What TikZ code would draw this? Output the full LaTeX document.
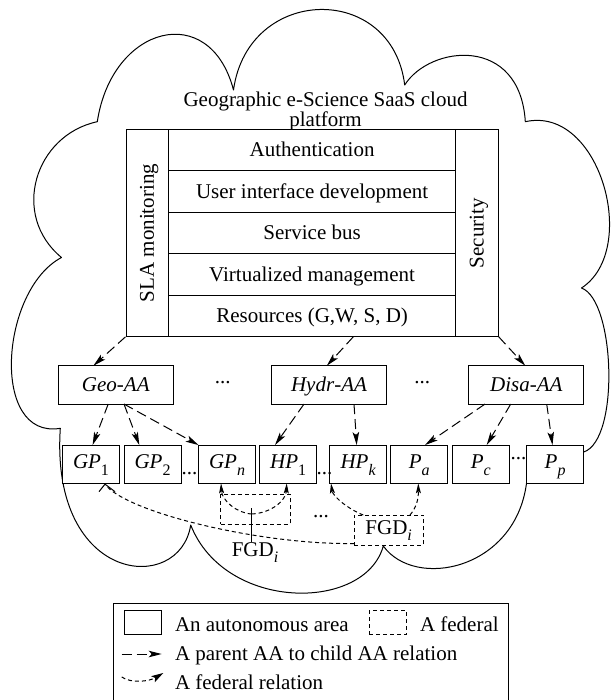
\documentclass[tikz,border=0pt]{standalone}
\usepackage{fontspec}
\setmainfont{Liberation Serif}
\usetikzlibrary{arrows.meta,calc}
\newcommand{\mysub}[1]{\raisebox{-0.33em}{\fontsize{16}{16}\selectfont #1}}
\begin{document}
\begin{tikzpicture}[x=1pt,y=-1pt,
  every node/.style={font=\fontsize{21}{18}\selectfont, inner sep=0pt, outer sep=0pt},
  ln/.style={line width=1pt, line join=round},
  cell/.style={draw, line width=1pt, fill=white, text height=14pt, text depth=1pt},
  vcell/.style={draw, line width=1pt, fill=white, rotate=90, text height=14pt, text depth=1pt},
  aabox/.style={cell, minimum width=115pt, minimum height=38.3pt, font=\fontsize{21}{18}\selectfont\itshape},
  pbox/.style={draw, line width=1pt, fill=white, minimum width=57pt, minimum height=38.3pt, text height=12pt, text depth=4pt},
  fedbox/.style={draw, line width=1pt, dash pattern=on 4pt off 3pt},
  pcarrow/.style={line width=1pt, dash pattern=on 10pt off 5pt, -{Stealth[length=13pt,width=6.5pt,inset=3pt]}},
  fedarrow/.style={line width=1pt, dash pattern=on 4pt off 3pt, -{Stealth[length=10pt,width=5pt,inset=2pt]}},
  fedline/.style={line width=1pt, dash pattern=on 4pt off 3pt},
]
\useasboundingbox (0,0) rectangle (610,700);

% cloud
\draw[ln] (97.3,121.7)
  .. controls (112,25) and (210,0) .. (233.5,90)
  .. controls (248,-15) and (392,-18) .. (404.7,85)
  .. controls (430,45) and (520,35) .. (525.3,121.7)
  .. controls (600,105) and (640,250) .. (581.5,288)
  .. controls (615,300) and (620,440) .. (583.7,452)
  -- (526.5,483.3)
  .. controls (515,570) and (415,590) .. (383.3,546)
  .. controls (365,612) and (225,612) .. (190.7,525)
  .. controls (180,595) and (50,585) .. (60.3,428.3)
  .. controls (-10,440) and (0,290) .. (61.5,257.5)
  .. controls (10,215) and (35,135) .. (97.3,121.7) -- cycle;

% title
\node[anchor=north, align=center] (title) at (325.5,91.5) {Geographic e-Science SaaS cloud\\platform};

% platform stack
\node[cell, minimum width=287.2pt, minimum height=41.5pt] (auth) at (312.1,150.05) {Authentication};
\node[cell, minimum width=287.2pt, minimum height=41.5pt] (uid) at (312.1,191.55) {User interface development};
\node[cell, minimum width=287.2pt, minimum height=41.5pt] (sbus) at (312.1,233.05) {Service bus};
\node[cell, minimum width=287.2pt, minimum height=41.5pt] (virt) at (312.1,274.55) {Virtualized management};
\node[cell, minimum width=287.2pt, minimum height=41.5pt] (res) at (312.1,316.05) {Resources (G,W, S, D)};
\node[vcell, minimum width=207.5pt, minimum height=42.5pt] (sla) at (147.25,233.05) {SLA monitoring};
\node[vcell, minimum width=207.5pt, minimum height=42.6pt] (sec) at (477,233.05) {Security};

% autonomous areas
\node[aabox] (geo) at (115.8,384.9) {Geo\textup{-}AA};
\node[aabox] (hydr) at (329,384.9) {Hydr\textup{-}AA};
\node[aabox] (disa) at (526.3,384.9) {Disa\textup{-}AA};
\node (d1) at (222.8,382.7) {...};
\node (d2) at (422.2,382.7) {...};

\node[pbox] (gp1) at (91,464.2) {\textit{GP}\mysub{1}};
\node[pbox] (gp2) at (152.5,464.2) {\textit{GP}\mysub{2}};
\node[pbox] (gpn) at (227,464.2) {\textit{GP}\mysub{\textit{n}}};
\node[pbox] (hp1) at (288.2,464.2) {\textit{HP}\mysub{1}};
\node[pbox] (hpk) at (358.2,464.2) {\textit{HP}\mysub{\textit{k}}};
\node[pbox] (pa) at (419.3,464.2) {\textit{P}\mysub{\textit{a}}};
\node[pbox] (pc) at (480.8,464.2) {\textit{P}\mysub{\textit{c}}};
\node[pbox] (pp) at (555.1,464.2) {\textit{P}\mysub{\textit{p}}};
\node (d3) at (189.5,474) {...};
\node (d4) at (324.5,474) {...};
\node (d5) at (518.5,458.3) {...};

% parent -> child arrows
\draw[pcarrow] ($(res.south west)+(-43,0)$) -- ($(geo.north)+(-22.4,0)$);
\draw[pcarrow] ($(res.south)+(41.2,0)$) -- ($(hydr.north)+(-2.2,0)$);
\draw[pcarrow] ($(res.south east)+(43,0)$) -- ($(disa.north)+(-1,0)$);
\draw[pcarrow] ($(geo.south)+(-7.6,0)$) -- ($(gp1.north)+(1.6,0)$);
\draw[pcarrow] ($(geo.south)+(8.2,0)$) -- ($(gp2.north)+(-13.2,0)$);
\draw[pcarrow] ($(geo.south)+(8.2,0)$) -- (gpn.north west);
\draw[pcarrow] ($(hydr.south)+(-25,0)$) -- ($(hp1.north)+(-13.2,0)$);
\draw[pcarrow] ($(hydr.south)+(25,0)$) -- ($(hpk.north)+(-1.5,0)$);
\draw[pcarrow] ($(disa.south)+(-41.3,0)$) -- ($(pa.north)+(5.7,0)$);
\draw[pcarrow] ($(disa.south)+(-15.6,0)$) -- ($(pc.north)+(5.9,0)$);
\draw[pcarrow] ($(disa.south)+(20.4,0)$) -- ($(pp.north)+(-2.6,0)$);

% federations
\node[fedbox, minimum width=69.3pt, minimum height=29.7pt] (fed1) at (255.35,509.15) {};
\node[fedbox, minimum width=69.3pt, minimum height=30pt, text height=12pt, text depth=4pt] (fed2) at (388.65,530) {FGD\mysub{\textit{i}}};
\node (d6) at (321,516.3) {...};
\node[anchor=base] (fgdlab) at (255,556) {FGD\mysub{\textit{i}}};
\coordinate (vt) at (251.7,508.3);
\draw[ln] (vt) -- (vt |- fgdlab.north);
\coordinate (fc) at (251.7,514);
\draw[fedarrow] (fc) .. controls (236,513) and (222,500) .. ($(gpn.south)+(-6,0)$);
\draw[fedarrow] (fc) .. controls (272,513) and (286,500) .. ($(hp1.south)+(-1.5,0)$);
\draw[fedarrow] ($(fed2.north west)+(9.3,0)$) .. controls (350,510) and (333,497) .. ($(hpk.south west)+(1.3,0)$);
\draw[fedarrow] ($(fed2.north)+(21.35,0)$) .. controls (416,508) and (418.5,500) .. ($(pa.south)+(-1,0)$);
\coordinate (gtip) at ($(gp1.south)+(14,0.8)$);
\draw[fedline] ($(fed2.south west)+(0,-1.5)$) .. controls (260,545) and (125,512) .. (gtip);
\draw[ln] ($(gtip)+(-6,7.5)$) -- (gtip) -- ($(gtip)+(10,7.5)$);

% legend
\begin{scope}
\clip (0,0) rectangle (610,700);
\node[draw, line width=1pt, minimum width=395pt, minimum height=109pt] (legend) at (310.5,657.5) {};
\end{scope}
\node[draw, line width=1pt, minimum width=37.7pt, minimum height=23.8pt] (lsolid) at (142.85,622.6) {};
\node[anchor=base west] (lt1) at (175,631) {An autonomous area};
\node[fedbox, minimum width=37.4pt, minimum height=23.8pt] (ldash) at (388,622.6) {};
\node[anchor=base west] (lt2) at (420,631) {A federal};
\coordinate (la1) at (121.7,654);
\coordinate (la2) at (161.7,654);
\draw[pcarrow] (la1) -- (la2);
\node[anchor=base west] (lt3) at (175,660) {A parent AA to child AA relation};
\coordinate (lb1) at (121.7,677);
\coordinate (lb2) at (163.3,673);
\draw[fedline, -{Stealth[length=12pt,width=7pt,inset=2.5pt]}] (lb1) .. controls (132,684) and (150,681) .. (lb2);
\node[anchor=base west] (lt4) at (175,689) {A federal relation};
\end{tikzpicture}
\end{document}
